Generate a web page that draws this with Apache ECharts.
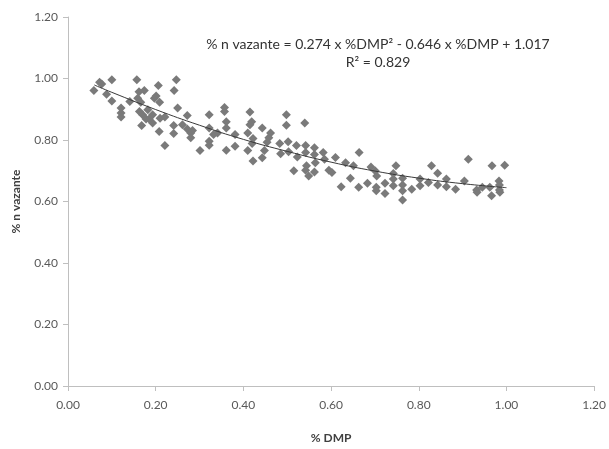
<!DOCTYPE html>
<html>
<head>
<meta charset="utf-8">
<script src="https://cdn.jsdelivr.net/npm/echarts@6/dist/echarts.min.js"></script>
<style>html,body{margin:0;padding:0;background:#fff}#c{width:609px;height:449px}</style>
</head>
<body>
<div id="c"></div>
<script>
// Observed points: %DMP
var dmp = [0.059,0.072,0.077,0.100,0.088,0.100,0.121,0.121,0.121,0.157,0.162,0.174,0.159,0.166,0.141,0.206,0.197,0.201,0.209,0.242,0.247,0.250,0.163,0.170,0.182,0.193,0.185,0.193,0.168,0.210,0.221,0.208,0.241,0.241,0.221,0.178,
0.272,0.261,0.272,0.280,0.280,0.284,0.301,0.322,0.322,0.322,0.322,0.332,0.341,0.357,0.357,0.361,0.361,0.361,0.381,0.381,0.415,0.419,0.415,0.410,0.422,0.420,0.410,0.422,0.443,0.448,0.443,0.462,0.458,0.454,0.483,0.485,0.498,0.498,0.502,0.503,0.515,0.521,
0.540,0.542,0.523,0.542,0.544,0.542,0.549,0.562,0.562,0.564,0.562,0.582,0.585,0.595,0.602,0.610,0.623,0.633,0.644,0.651,0.664,0.663,0.683,0.691,0.701,0.704,0.703,0.703,0.723,0.723,0.742,0.748,0.742,0.742,0.763,0.763,0.763,0.763,0.784,
0.803,0.803,0.822,0.829,0.843,0.843,0.863,0.863,0.884,0.904,0.913,0.932,0.933,0.945,0.962,0.966,0.967,0.983,0.984,0.984,0.996,0.985];
// Observed points: % n vazante
var vazante = [0.961,0.988,0.982,0.996,0.949,0.927,0.904,0.888,0.875,0.996,0.957,0.961,0.936,0.923,0.925,0.977,0.936,0.943,0.923,0.961,0.996,0.904,0.893,0.882,0.898,0.882,0.868,0.855,0.847,0.871,0.875,0.828,0.847,0.821,0.782,0.868,
0.880,0.850,0.836,0.823,0.807,0.831,0.766,0.882,0.839,0.796,0.783,0.818,0.823,0.906,0.893,0.859,0.839,0.767,0.818,0.780,0.891,0.859,0.850,0.823,0.805,0.789,0.766,0.732,0.839,0.766,0.742,0.823,0.807,0.793,0.789,0.755,0.882,0.848,0.794,0.762,0.700,0.782,
0.855,0.782,0.745,0.759,0.716,0.702,0.683,0.775,0.753,0.726,0.696,0.759,0.737,0.702,0.694,0.743,0.648,0.726,0.676,0.716,0.759,0.646,0.659,0.712,0.699,0.683,0.646,0.635,0.659,0.626,0.691,0.716,0.673,0.651,0.676,0.654,0.635,0.605,0.640,
0.673,0.651,0.662,0.716,0.692,0.654,0.673,0.648,0.640,0.667,0.737,0.637,0.630,0.646,0.646,0.619,0.716,0.667,0.654,0.637,0.718,0.630];
// Trend line (polynomial fit as drawn)
var trendX = [0.06,0.10,0.20,0.30,0.40,0.50,0.60,0.70,0.80,0.90,1.00];
var trendY = [0.979,0.955,0.899,0.848,0.802,0.763,0.728,0.699,0.676,0.658,0.645];
var xTicks = [0,0.2,0.4,0.6,0.8,1.0,1.2];
var yTicks = [0,0.2,0.4,0.6,0.8,1.0,1.2];
var eqText = '% n vazante = 0.274 x %DMP\u00B2 - 0.646 x %DMP + 1.017';
var r2Text = 'R\u00B2 = 0.829';

var pts = dmp.map(function(x,i){return [x, vazante[i]];});
var tl = trendX.map(function(x,i){return [x, trendY[i]];});
var F = 'Lato, "Open Sans", sans-serif';
var chart = echarts.init(document.getElementById('c'), null, {renderer:'canvas'});
chart.setOption({
  animation:false,
  backgroundColor:'#fff',
  grid:{left:68, right:12, top:17, bottom:59, containLabel:false},
  title:{text:eqText+'\n'+r2Text, left:373, top:30, textAlign:'center',
    textStyle:{fontFamily:F, fontSize:14, fontWeight:'normal', color:'#333', lineHeight:18}},
  xAxis:{type:'value', min:xTicks[0], max:xTicks[xTicks.length-1], interval:0.2,
    name:'% DMP', nameLocation:'middle', nameGap:46,
    nameTextStyle:{fontFamily:F, fontSize:12, fontWeight:'bold', color:'#404040'},
    axisLine:{show:true, lineStyle:{color:'#bfbfbf', width:1}},
    axisTick:{show:true, inside:false, length:5, lineStyle:{color:'#bfbfbf'}},
    axisLabel:{fontFamily:F, fontSize:12, color:'#595959', margin:13, formatter:function(v){return v.toFixed(2);}},
    splitLine:{show:false}},
  yAxis:{type:'value', min:yTicks[0], max:yTicks[yTicks.length-1], interval:0.2,
    name:'% n vazante', nameLocation:'middle', nameGap:46, nameRotate:90,
    nameTextStyle:{fontFamily:F, fontSize:12, fontWeight:'bold', color:'#404040'},
    axisLine:{show:true, lineStyle:{color:'#bfbfbf', width:1}},
    axisTick:{show:true, inside:false, length:5, lineStyle:{color:'#bfbfbf'}},
    axisLabel:{fontFamily:F, fontSize:12, color:'#595959', margin:10, formatter:function(v){return v.toFixed(2);}},
    splitLine:{show:false}},
  series:[
    {type:'scatter', data:pts, symbol:'diamond', symbolSize:9,
      itemStyle:{color:'#7a7a7a', opacity:1}, z:2},
    {type:'line', data:tl, smooth:true, symbol:'none',
      lineStyle:{color:'#3a3a3a', width:1}, z:3}
  ]
});
</script>
</body>
</html>
